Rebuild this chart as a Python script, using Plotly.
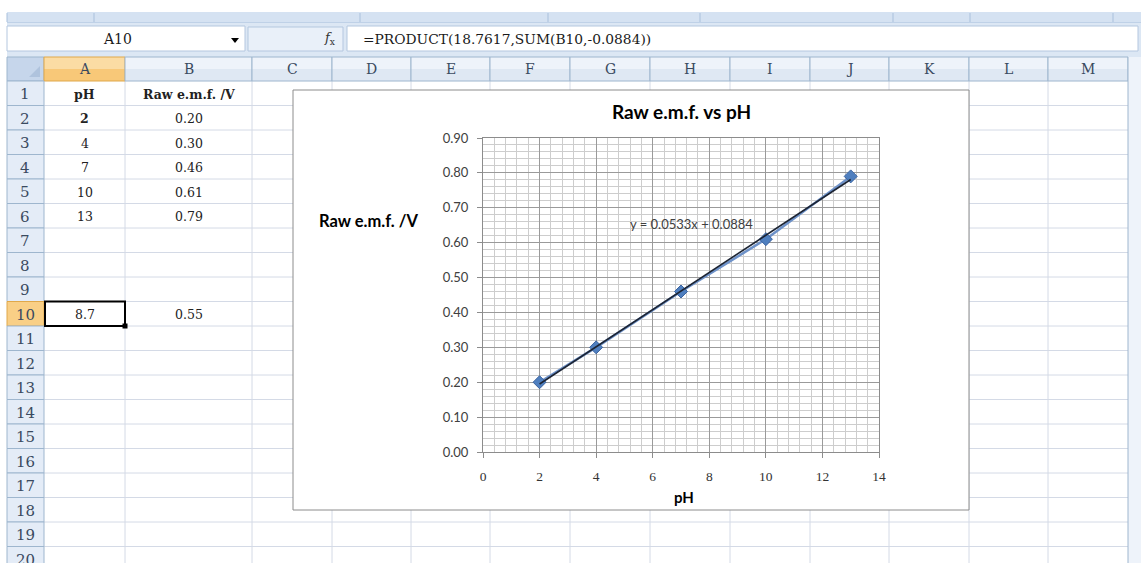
import numpy as np
import plotly.graph_objects as go

# ---------------- data ----------------
ph = [2, 4, 7, 10, 13]
emf = [0.20, 0.30, 0.46, 0.61, 0.79]
x_tick_vals = [0, 2, 4, 6, 8, 10, 12, 14]
y_tick_vals = [0.0, 0.1, 0.2, 0.3, 0.4, 0.5, 0.6, 0.7, 0.8, 0.9]
col_letters = ["A", "B", "C", "D", "E", "F", "G", "H", "I", "J", "K", "L", "M"]
row_numbers = list(range(1, 21))
header_ph = "pH"
header_emf = "Raw e.m.f. /V"
selected_ph = "8.7"
selected_emf = "0.55"
name_box = "A10"
formula = "=PRODUCT(18.7617,SUM(B10,-0.0884))"
chart_title = "Raw e.m.f. vs pH"
x_title = "pH"
y_title = "Raw e.m.f. /V"

# ---------------- geometry helpers ----------------
W, H = 1141, 563
def X(x): return x / W
def Y(y): return 1 - y / H

shapes = []
annotations = []

def rect(x0, y0, x1, y1, fill=None, line=None, lw=1):
    shapes.append(dict(type="rect", xref="paper", yref="paper",
                       x0=X(x0), x1=X(x1), y0=Y(y1), y1=Y(y0),
                       fillcolor=fill if fill else "rgba(0,0,0,0)",
                       line=dict(color=line if line else "rgba(0,0,0,0)", width=lw if line else 0),
                       layer="below"))

def hline(x0, x1, y, color, lw=1):
    shapes.append(dict(type="line", xref="paper", yref="paper",
                       x0=X(x0), x1=X(x1), y0=Y(y), y1=Y(y),
                       line=dict(color=color, width=lw), layer="below"))

def vline(x, y0, y1, color, lw=1):
    shapes.append(dict(type="line", xref="paper", yref="paper",
                       x0=X(x), x1=X(x), y0=Y(y0), y1=Y(y1),
                       line=dict(color=color, width=lw), layer="below"))

def txt(x, y, s, size, color="#222222", family="DejaVu Serif", xanchor="center", bold=False):
    annotations.append(dict(x=X(x), y=Y(y), xref="paper", yref="paper",
                            text=f"<b>{s}</b>" if bold else s, showarrow=False,
                            xanchor=xanchor, yanchor="middle",
                            font=dict(size=size, color=color, family=family)))

# ---------------- spreadsheet chrome ----------------
col_edges = [44, 125, 252, 332, 411, 490, 570, 650, 730, 810, 889, 969, 1048, 1128]
row_top0 = 81
row_h = 24.5
hdr_top = 57
grid_c = "#D4DAE6"
hdr_line = "#9EB6CE"
hdr_text = "#3A4A60"

# ribbon strip
rect(7, 12, 1141, 23, fill="#D5E2F2")
for tx in [7, 94, 360, 548, 700, 893, 970, 1113]:
    vline(tx, 13, 22, "#A9C0DC")
hline(7, 1141, 23, "#A9C0DC")
# formula bar background
rect(7, 23, 1141, 57, fill="#DCE7F4")
rect(7, 26, 245, 51, fill="#FFFFFF", line="#B4C7DF")
shapes.append(dict(type="path", xref="paper", yref="paper",
                   path=f"M {X(231)} {Y(38)} L {X(239)} {Y(38)} L {X(235)} {Y(43)} Z",
                   fillcolor="#000000", line=dict(width=0), layer="below"))
rect(248, 27, 343, 51, fill="#E9F0F9", line="#B4C7DF")
rect(347, 26, 1138, 51, fill="#FFFFFF", line="#B4C7DF")
txt(117, 39, name_box, 14, color="#1A1A1A")
txt(330, 39, "<i>f</i><sub>x</sub>", 13, color="#333333")
txt(361, 39, formula, 13.8, color="#1A1A1A", xanchor="left")

# cell grid
last_y = H + 5
for k in range(1, 22):
    yy = row_top0 + k * row_h
    hline(44, 1128, yy, grid_c)
for e in col_edges[1:-1]:
    vline(e, row_top0, last_y, grid_c)

# column headers
rect(7, hdr_top, 44, row_top0, fill="#C6D6EB", line=hdr_line)
shapes.append(dict(type="path", xref="paper", yref="paper",
                   path=f"M {X(40)} {Y(66)} L {X(40)} {Y(77)} L {X(29)} {Y(77)} Z",
                   fillcolor="#AFC3DD", line=dict(width=0), layer="below"))
for i, letter in enumerate(col_letters):
    x0, x1 = col_edges[i], col_edges[i + 1]
    if letter == "A":
        rect(x0, hdr_top, x1, (hdr_top + row_top0) / 2, fill="#FBDCA4")
        rect(x0, (hdr_top + row_top0) / 2, x1, row_top0, fill="#F8C878")
        rect(x0, hdr_top, x1, row_top0, line="#E0A84A")
    else:
        rect(x0, hdr_top, x1, (hdr_top + row_top0) / 2, fill="#EEF3FA")
        rect(x0, (hdr_top + row_top0) / 2, x1, row_top0, fill="#DFE8F3")
        rect(x0, hdr_top, x1, row_top0, line=hdr_line)
    txt((x0 + x1) / 2, 69.5, letter, 14, color=hdr_text)

# row headers
for r in row_numbers:
    y0 = row_top0 + (r - 1) * row_h
    y1 = y0 + row_h
    if r == 10:
        rect(7, y0, 44, y1, fill="#F9CF86", line="#E0A84A")
    else:
        rect(7, y0, 44, y1, fill="#E4ECF7", line=hdr_line)
    txt(25.5, (y0 + y1) / 2 + 1, str(r), 15, color=hdr_text)

# right scroll strip
rect(1128, hdr_top, 1141, H + 5, fill="#EEF3FA")
vline(1128, hdr_top, H + 5, "#9EB6CE")

# cell contents
def row_center(r):
    return row_top0 + (r - 0.5) * row_h + 1

colA_c = (col_edges[0] + col_edges[1]) / 2
colB_c = (col_edges[1] + col_edges[2]) / 2
txt(colA_c, row_center(1), header_ph, 12.5, bold=True)
txt(colB_c, row_center(1), header_emf, 12.5, bold=True)
for i, (p, e) in enumerate(zip(ph, emf)):
    r = i + 2
    txt(colA_c, row_center(r), str(p), 12.5, bold=(i == 0))
    txt(colB_c, row_center(r), f"{e:.2f}", 12.5)
txt(colA_c, row_center(10), selected_ph, 12.5)
txt(colB_c, row_center(10), selected_emf, 12.5)

# selected cell A10
sel_y0 = row_top0 + 9 * row_h
rect(col_edges[0] + 1, sel_y0, col_edges[1], sel_y0 + row_h, line="#000000", lw=2)
rect(col_edges[1] - 2.5, sel_y0 + row_h - 2.5, col_edges[1] + 2.5, sel_y0 + row_h + 2.5, fill="#000000")

# chart box
rect(293, 90, 969, 510, fill="#FFFFFF", line="#8C8C8C")

# chart texts
txt(681, 111, chart_title, 19, color="#000000", family="Lato", bold=True)
txt(368, 221, y_title, 16.5, color="#000000", family="Lato", bold=True)
txt(684, 497, x_title, 15, color="#000000", family="Lato", bold=True)

# ---------------- chart ----------------
slope, intercept = np.polyfit(ph, emf, 1)
trend_x = np.array([min(ph), max(ph)], dtype=float)
trend_y = slope * trend_x + intercept
sign = "+" if intercept >= 0 else "-"
eq_text = f"y = {slope:.4f}x {sign} {abs(intercept):.4f}"
txt(691, 224, eq_text, 13, color="#404040", family="Lato")

fig = go.Figure()
fig.add_trace(go.Scatter(x=ph, y=emf, mode="lines+markers",
                         line=dict(color="#6E92C9", width=2.5),
                         marker=dict(symbol="diamond", size=10, color="#4F7FBF",
                                     line=dict(color="#3C64A0", width=1)),
                         showlegend=False))
fig.add_trace(go.Scatter(x=trend_x, y=trend_y, mode="lines",
                         line=dict(color="#1C2433", width=1.6), showlegend=False))

fig.update_layout(
    width=W, height=H, autosize=False,
    margin=dict(l=0, r=0, t=0, b=0, pad=0, autoexpand=False),
    paper_bgcolor="#FFFFFF", plot_bgcolor="rgba(0,0,0,0)",
    font=dict(family="Lato", color="#404040"),
    shapes=shapes, annotations=annotations,
    xaxis=dict(domain=[X(483), X(879)], range=[0, 14], tickvals=x_tick_vals,
               showline=True, linecolor="#8C8C8C", mirror=True, automargin=False,
               ticks="outside", ticklen=5, tickcolor="#8C8C8C",
               showgrid=True, gridcolor="#9A9A9A", gridwidth=1, zeroline=False,
               tickfont=dict(family="Liberation Serif", size=13.5, color="#333333"),
               ticklabelstandoff=7,
               minor=dict(dtick=0.4, tick0=0, showgrid=True, gridcolor="#CDCDCD", gridwidth=1)),
    yaxis=dict(domain=[Y(452), Y(138)], range=[0, 0.9], tickvals=y_tick_vals,
               tickformat=".2f", automargin=False,
               showline=True, linecolor="#8C8C8C", mirror=True,
               ticks="outside", ticklen=5, tickcolor="#8C8C8C",
               showgrid=True, gridcolor="#9A9A9A", gridwidth=1, zeroline=False,
               tickfont=dict(family="Lato", size=13, color="#404040"),
               ticklabelstandoff=6,
               minor=dict(dtick=0.02, tick0=0, showgrid=True, gridcolor="#CDCDCD", gridwidth=1)),
)

post_js = (
    "document.documentElement.style.margin='0';"
    "document.documentElement.style.padding='0';"
    "document.documentElement.style.overflow='hidden';"
    "document.body.style.margin='0';"
    "document.body.style.padding='0';"
    "document.body.style.overflow='hidden';"
    "var gd=document.getElementById('{plot_id}');"
    "gd.style.position='fixed';gd.style.left='0px';gd.style.top='0px';"
)

fig.write_html("out.html", config={"displayModeBar": False}, post_script=post_js)
